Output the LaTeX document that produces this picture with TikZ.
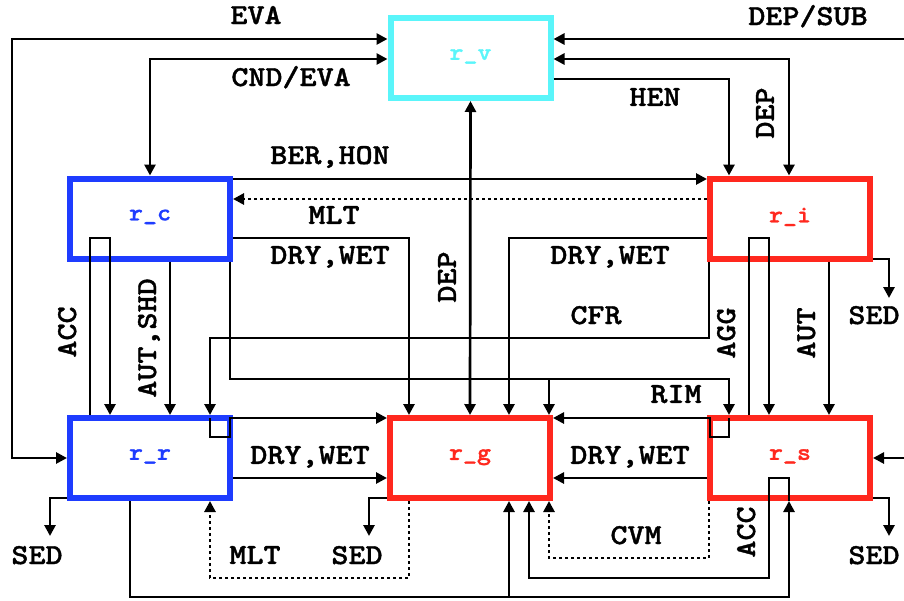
\documentclass[tikz,border=0pt]{standalone}
\usepackage{fontspec}
\usepackage{graphicx}
\newfontfamily\cmono{lmmonolt10-bold.otf}[FakeBold=1.2]
\usetikzlibrary{arrows.meta}
\definecolor{cbox}{RGB}{30,60,255}
\definecolor{rbox}{RGB}{255,40,30}
\definecolor{vbox}{RGB}{90,245,250}
\newcommand\lt[1]{\scalebox{1.12}[1]{#1}}
\newcommand\bt[1]{\raisebox{7pt}{\scalebox{1.11}[1]{#1}}}
\begin{document}
\begin{tikzpicture}[x=1pt,y=-1pt,
  box/.style={draw=#1, text=#1, line width=6pt, minimum width=160pt, minimum height=80pt,
    inner sep=0pt, font=\cmono\fontsize{24}{26}\selectfont},
  conn/.style={line width=2.7pt, -{Triangle[length=11pt,width=11pt]}},
  twoway/.style={line width=2.7pt, {Triangle[length=11pt,width=11pt]}-{Triangle[length=11pt,width=11pt]}},
  dotline/.style={line width=2.7pt, dash pattern=on 3pt off 3pt, -{Triangle[length=11pt,width=11pt]}},
  lab/.style={font=\cmono\fontsize{29}{31}\selectfont, inner sep=0pt, text depth=0pt},
  vlab/.style={lab, rotate=90}]
\useasboundingbox (0,0) rectangle (904,600);

% boxes
\node[box=vbox] (rv) at (470.5,58) {\bt{r\_v}};
\node[box=cbox] (rc) at (150,218.5) {\bt{r\_c}};
\node[box=rbox] (ri) at (790,218.5) {\bt{r\_i}};
\node[box=cbox] (rr) at (150,458) {\bt{r\_r}};
\node[box=rbox] (rg) at (470,458) {\bt{r\_g}};
\node[box=rbox] (rs) at (790,458) {\bt{r\_s}};

% free ends
\coordinate (subin) at (904,39);
\coordinate (sin) at (904,458);
\coordinate (sedi) at (889,298);
\coordinate (sedr) at (50,536);
\coordinate (sedg) at (369,536);
\coordinate (seds) at (889,536);

% top connectors
\draw[twoway] (rv.west |- 0,39) -- (12,39) -- (12,458) -- (rr.west |- 0,458);
\draw[conn] (subin) -- (rv.east |- 0,39);
\draw[twoway] (rv.west |- 0,59) -- (150,59) -- (rc.north);
\draw[conn] (rv.east |- 0,79) -- (729,79) -- (ri.north -| 729,0);
\draw[twoway] (rv.east |- 0,59) -- (789,59) -- (ri.north -| 789,0);
\draw[conn] (rc.east |- 0,179) -- (ri.west |- 0,179);
\draw[dotline] (ri.west |- 0,199) -- (rc.east |- 0,199);
\draw[twoway] (rv.south) -- (rg.north);

% middle connectors
\draw[conn] (rc.east |- 0,238) -- (409,238) -- (rg.north -| 409,0);
\draw[conn] (ri.west |- 0,238) -- (509,238) -- (rg.north -| 509,0);
\draw[conn] (ri.south -| 709,0) -- (709,338) -- (210,338) -- (rr.north -| 210,0);
\draw[conn] (rc.south -| 230,0) -- (230,379) -- (729,379) -- (rs.north -| 729,0);
\draw[conn] (549,379) -- (rg.north -| 549,0);
\draw[conn] (rr.north -| 90,0) -- (90,238) -- (110,238) -- (rr.north -| 110,0);
\draw[conn] (rc.south -| 170,0) -- (rr.north -| 170,0);
\draw[conn] (rs.north -| 749,0) -- (749,238) -- (769,238) -- (rs.north -| 769,0);
\draw[conn] (ri.south -| 829,0) -- (rs.north -| 829,0);
\draw[conn] (ri.east |- 0,259) -- (889,259) -- (sedi);

% bottom row connectors
\draw[conn] (rr.north -| 210,0) ++(0,3) -- (210,437) -- (230,437) -- (230,418) -- (rg.west |- 0,418);
\draw[conn] (rr.east |- 0,478) -- (rg.west |- 0,478);
\draw[conn] (rs.north -| 729,0) ++(0,3) -- (729,437) -- (710,437) -- (710,418) -- (rg.east |- 0,418);
\draw[conn] (rs.west |- 0,478) -- (rg.east |- 0,478);
\draw[conn] (sin) -- (rs.east);

\draw[conn] (rr.west |- 0,498) -- (50,498) -- (sedr);
\draw[conn] (rg.west |- 0,498) -- (369,498) -- (sedg);
\draw[conn] (rs.east |- 0,498) -- (889,498) -- (seds);

\draw[dotline] (rg.south -| 409,0) -- (409,578) -- (210,578) -- (rr.south -| 210,0);
\draw[dotline] (rs.south -| 709,0) -- (709,558) -- (549,558) -- (rg.south -| 549,0);

\draw[conn] (rr.south -| 130,0) -- (130,597) -- (789,597) -- (rs.south -| 789,0);
\draw[conn] (509,597) -- (rg.south -| 509,0);
\draw[conn] (rs.south -| 789,0) -- (789,478) -- (769,478) -- (769,578) -- (529,578) -- (rg.south -| 529,0);

% labels
\node[lab] (l1) at (256,15) {\lt{EVA}};
\node[lab] (l2) at (808,15) {\lt{DEP/SUB}};
\node[lab] (l3) at (291,76) {\lt{CND/EVA}};
\node[lab] (l4) at (655,97) {\lt{HEN}};
\node[vlab] (l5) at (765,113) {\lt{DEP}};
\node[lab] (l6) at (330,155) {\lt{BER,HON}};
\node[lab] (l7) at (334,215) {\lt{MLT}};
\node[lab] (l8) at (330,255) {\lt{DRY,WET}};
\node[lab] (l9) at (610,255) {\lt{DRY,WET}};
\node[vlab] (l10) at (447,277) {\lt{DEP}};
\node[lab] (l11) at (596,315) {\lt{CFR}};
\node[lab] (l12) at (874,315) {\lt{SED}};
\node[vlab] (l13) at (67,332) {\lt{ACC}};
\node[vlab] (l14) at (147,338) {\lt{AUT,SHD}};
\node[vlab] (l15) at (726,333) {\lt{AGG}};
\node[vlab] (l16) at (806,333) {\lt{AUT}};
\node[lab] (l17) at (676,394) {\lt{RIM}};
\node[lab] (l18) at (310,455) {\lt{DRY,WET}};
\node[lab] (l19) at (630,455) {\lt{DRY,WET}};
\node[lab] (l20) at (636,535) {\lt{CVM}};
\node[vlab] (l21) at (746,532) {\lt{ACC}};
\node[lab] (l22) at (37,555) {\lt{SED}};
\node[lab] (l23) at (255,555) {\lt{MLT}};
\node[lab] (l24) at (357,555) {\lt{SED}};
\node[lab] (l25) at (874,555) {\lt{SED}};
\end{tikzpicture}
\end{document}
